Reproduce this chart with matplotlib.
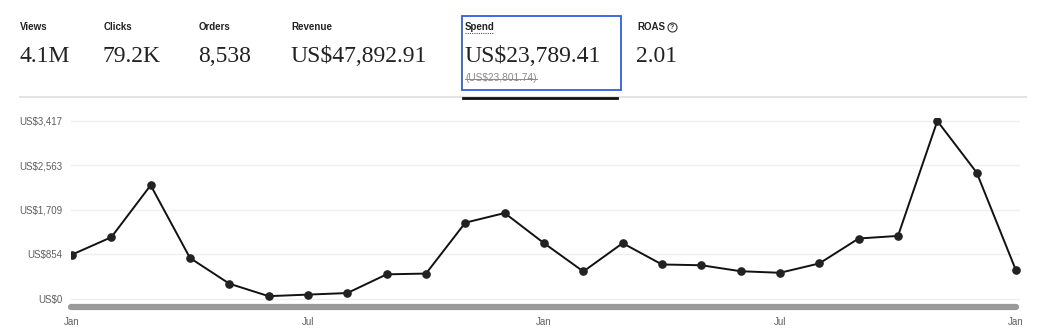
import matplotlib
matplotlib.use("Agg")
import matplotlib.pyplot as plt
from matplotlib.lines import Line2D
from matplotlib.patches import Rectangle

# tarjetas de la cabecera
etiquetas = ["Views", "Clicks", "Orders", "Revenue", "Spend", "ROAS"]
valores = ["4.1M", "79.2K", "8,538", "US$47,892.91", "US$23,789.41", "2.01"]
valor_anterior = "(US$23,801.74)"

# gasto mensual (25 meses, Jan -> Jan)
meses = list(range(25))
gasto = [845, 1180, 2180, 780, 285, 45, 75, 105, 465, 480, 1460, 1645, 1065, 520,
         1065, 655, 640, 525, 495, 675, 1155, 1205, 3417, 2425, 540]
ticks_y = [0, 854, 1709, 2563, 3417]
etiquetas_y = ["US$0", "US$854", "US$1,709", "US$2,563", "US$3,417"]
ticks_x = [0, 6, 12, 18, 24]
etiquetas_x = ["Jan", "Jul", "Jan", "Jul", "Jan"]

W, H = 1050, 336
fig = plt.figure(figsize=(W / 100, H / 100), dpi=100)


def fx(px):
    return px / W


def fy(py):
    return 1 - py / H


# ---- cabecera ----
x_tarjetas = [20, 104, 199, 291, 465, 637]
for x, et, val in zip(x_tarjetas, etiquetas, valores):
    fig.text(fx(x), fy(27), et, fontsize=7, fontweight="bold", family="Liberation Sans",
             color="#222222", va="center", ha="left")
    fig.text(fx(x - 1), fy(56), val, fontsize=17, family="Liberation Serif",
             color="#222222", va="center", ha="left")

txt_ant = fig.text(fx(465), fy(78), valor_anterior, fontsize=7.3, family="Liberation Sans",
                   color="#8a8a8a", va="center", ha="left")

# icono ? de ROAS
fig.lines.append(Line2D([fx(672)], [fy(27)], transform=fig.transFigure, marker="o",
                        markersize=6.5, markerfacecolor="none", markeredgecolor="#333333",
                        markeredgewidth=0.8, linestyle="none"))
fig.text(fx(672), fy(27.3), "?", fontsize=5, fontweight="bold", family="Liberation Sans",
         color="#333333", ha="center", va="center")

# recuadro azul de la tarjeta seleccionada
fig.patches.append(Rectangle((fx(462), fy(90)), (621 - 462) / W, 74 / H,
                             transform=fig.transFigure, fill=False,
                             edgecolor="#2f5fe0", linewidth=1.3))

# separador gris y subrayado negro
fig.lines.append(Line2D([fx(20), fx(1026)], [fy(97), fy(97)], transform=fig.transFigure,
                        color="#e3e3e3", linewidth=1.4))
fig.lines.append(Line2D([fx(463), fx(617)], [fy(97.5), fy(97.5)], transform=fig.transFigure,
                        color="#111111", linewidth=2))

# ---- grafica ----
ax = fig.add_axes([fx(71), fy(302), (1020 - 71) / W, 184 / H])
ax.plot(meses, gasto, color="#111111", linewidth=1.4, marker="o", markersize=5.2,
        markerfacecolor="#222222", markeredgecolor="#222222", zorder=3)

escala = 177.5 / 3417
ax.set_ylim(-3.5 / escala, 3417 + 3 / escala)
ax.set_xlim(-1 / 39.33, 24 + 4 / 39.33)
ax.set_yticks(ticks_y)
ax.set_yticklabels(etiquetas_y)
ax.set_xticks(ticks_x)
ax.set_xticklabels(etiquetas_x)
ax.tick_params(axis="both", length=0, labelsize=7, labelcolor="#5f5f5f")
ax.tick_params(axis="y", pad=6)
ax.tick_params(axis="x", pad=11)
for lab in ax.get_xticklabels() + ax.get_yticklabels():
    lab.set_family("Liberation Sans")
ax.grid(axis="y", color="#efefef", linewidth=1)
ax.set_axisbelow(True)
for s in ax.spines.values():
    s.set_visible(False)

# barra de desplazamiento
fig.lines.append(Line2D([fx(71), fx(1016)], [fy(307), fy(307)], transform=fig.transFigure,
                        color="#9a9a9a", linewidth=4.5, solid_capstyle="round"))

# tachado y subrayado punteado (necesitan medidas del texto)
fig.canvas.draw()
rend = fig.canvas.get_renderer()
bb = txt_ant.get_window_extent(rend)
ymid = (bb.y0 + bb.y1) / 2 / H
fig.lines.append(Line2D([bb.x0 / W, bb.x1 / W], [ymid - 0.5 / H, ymid - 0.5 / H],
                        transform=fig.transFigure, color="#8a8a8a", linewidth=0.7))
fig.lines.append(Line2D([fx(465), fx(494)], [fy(33), fy(33)], transform=fig.transFigure,
                        color="#555555", linewidth=0.8, linestyle=(0, (1, 1))))

fig.savefig("out.png", dpi=100)
